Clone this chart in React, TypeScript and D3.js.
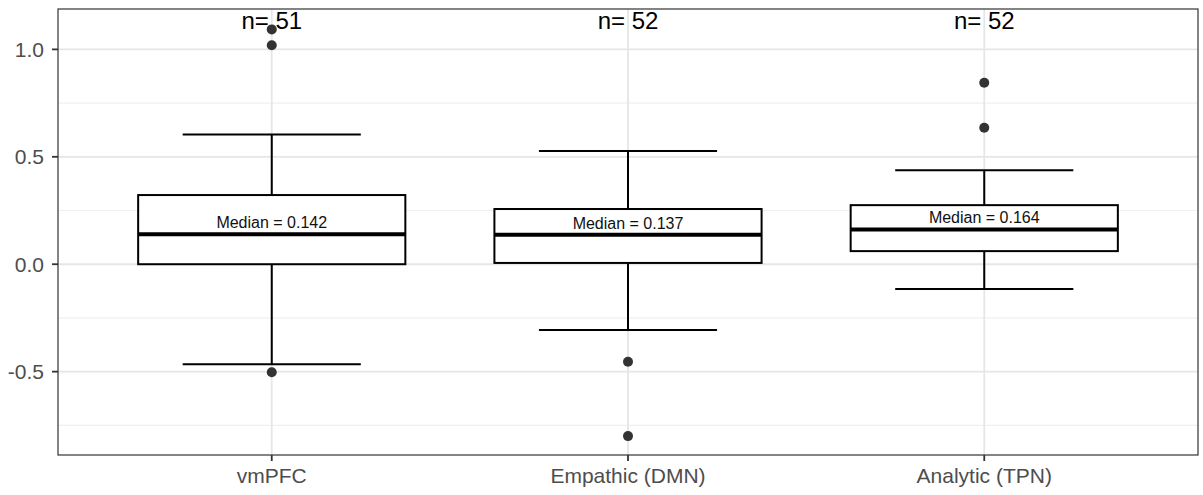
import React from 'react';
import * as d3 from 'd3';

// groups and box stats
const categories = ['vmPFC', 'Empathic (DMN)', 'Analytic (TPN)'];
const nCounts = [51, 52, 52];
const medianLabels = ['0.142', '0.137', '0.164'];
const medians = [0.140, 0.137, 0.162];
const q1 = [0.0, 0.006, 0.061];
const q3 = [0.322, 0.257, 0.275];
const whiskerLow = [-0.466, -0.306, -0.115];
const whiskerHigh = [0.604, 0.527, 0.438];
const outliers = [
  [1.093, 1.019, -0.503],
  [-0.454, -0.80],
  [0.845, 0.635],
];
const yTicks = [-0.5, 0.0, 0.5, 1.0];
const yMinor = [-0.75, -0.25, 0.25, 0.75];

const W = 1203;
const H = 495;
const panel = { left: 58, right: 1198, top: 9, bottom: 455 };

const App = () => {
  const x = d3.scalePoint<string>()
    .domain(categories)
    .range([panel.left, panel.right])
    .padding(0.6);
  const step = x.step();

  const y = d3.scaleLinear()
    .domain([-0.888, 1.188])
    .range([panel.bottom, panel.top]);

  const boxW = step * 0.75;
  const capW = step * 0.5;
  const font = 'Liberation Sans, Arial, sans-serif';
  const fmt = (v: number) => d3.format('.1f')(v).replace('\u2212', '-');

  return (
    <svg width={W} height={H} style={{ position: 'absolute', left: 0, top: 0, background: '#fff' }}>
      {/* grid */}
      <g>
        {yMinor.map(v => (
          <line key={'mi' + v} x1={panel.left} x2={panel.right} y1={y(v)} y2={y(v)} stroke="#f0f0f0" strokeWidth={1.2} />
        ))}
        {yTicks.map(v => (
          <line key={'ma' + v} x1={panel.left} x2={panel.right} y1={y(v)} y2={y(v)} stroke="#e6e6e6" strokeWidth={1.8} />
        ))}
        {categories.map(c => (
          <line key={'gx' + c} x1={x(c)} x2={x(c)} y1={panel.top} y2={panel.bottom} stroke="#e6e6e6" strokeWidth={1.8} />
        ))}
      </g>

      {/* boxes */}
      {categories.map((c, i) => {
        const cx = x(c) as number;
        return (
          <g key={c}>
            <line x1={cx} x2={cx} y1={y(whiskerHigh[i])} y2={y(q3[i])} stroke="#000" strokeWidth={2} />
            <line x1={cx} x2={cx} y1={y(q1[i])} y2={y(whiskerLow[i])} stroke="#000" strokeWidth={2} />
            <line x1={cx - capW / 2} x2={cx + capW / 2} y1={y(whiskerHigh[i])} y2={y(whiskerHigh[i])} stroke="#000" strokeWidth={2} />
            <line x1={cx - capW / 2} x2={cx + capW / 2} y1={y(whiskerLow[i])} y2={y(whiskerLow[i])} stroke="#000" strokeWidth={2} />
            <rect x={cx - boxW / 2} y={y(q3[i])} width={boxW} height={y(q1[i]) - y(q3[i])} fill="#fff" stroke="#000" strokeWidth={2} />
            <line x1={cx - boxW / 2} x2={cx + boxW / 2} y1={y(medians[i])} y2={y(medians[i])} stroke="#000" strokeWidth={4} />
            {outliers[i].map((v, j) => (
              <circle key={j} cx={cx} cy={y(v)} r={5} fill="#333" />
            ))}
            <text x={cx} y={y(medians[i]) - 6} textAnchor="middle" fontFamily={font} fontSize={16} fill="#111">
              {'Median = ' + medianLabels[i]}
            </text>
            <text x={cx} y={y(1.188) + 20} textAnchor="middle" fontFamily={font} fontSize={24} fill="#000">
              {'n= ' + nCounts[i]}
            </text>
          </g>
        );
      })}

      {/* panel border */}
      <rect x={panel.left} y={panel.top} width={panel.right - panel.left} height={panel.bottom - panel.top} fill="none" stroke="#333" strokeWidth={1.2} />

      {/* y axis */}
      {yTicks.map(v => (
        <g key={'yt' + v}>
          <line x1={panel.left - 6} x2={panel.left} y1={y(v)} y2={y(v)} stroke="#333" strokeWidth={1.8} />
          <text x={panel.left - 14} y={y(v)} dy="0.36em" textAnchor="end" fontFamily={font} fontSize={21} fill="#4d4d4d">
            {fmt(v)}
          </text>
        </g>
      ))}

      {/* x axis */}
      {categories.map(c => (
        <g key={'xt' + c}>
          <line x1={x(c)} x2={x(c)} y1={panel.bottom} y2={panel.bottom + 6} stroke="#333" strokeWidth={1.8} />
          <text x={x(c)} y={panel.bottom + 28} textAnchor="middle" fontFamily={font} fontSize={21} fill="#4d4d4d">
            {c}
          </text>
        </g>
      ))}
    </svg>
  );
};

export default App;
